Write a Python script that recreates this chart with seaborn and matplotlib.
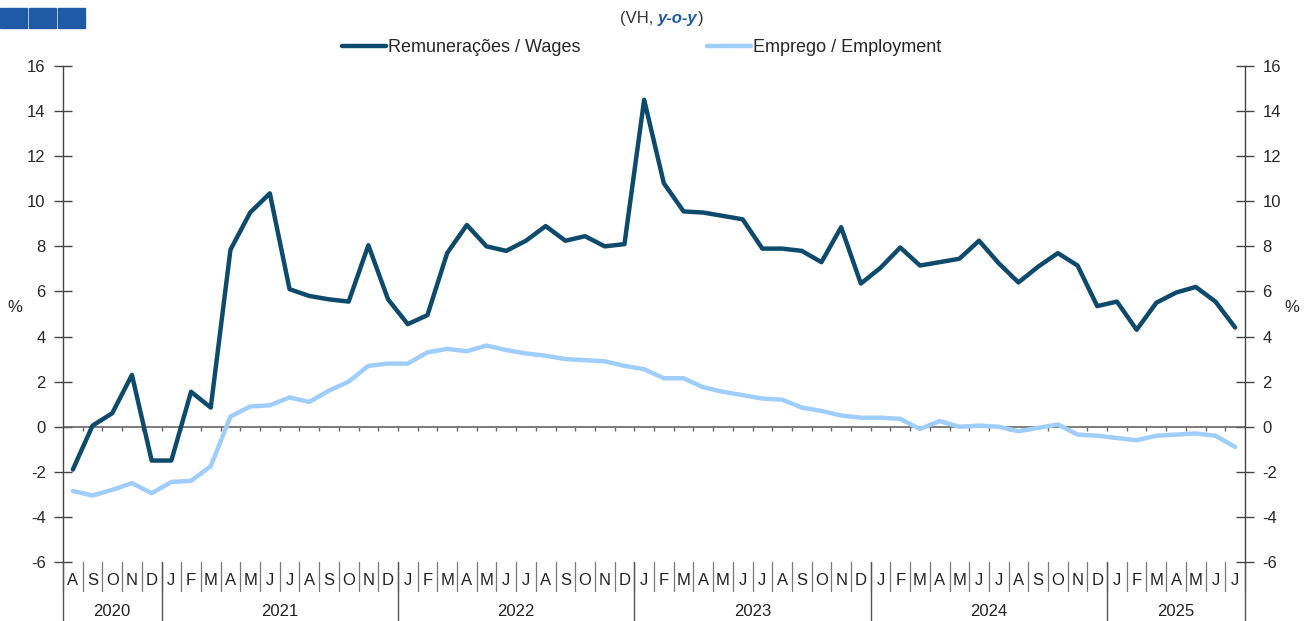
import pandas as pd
import seaborn as sns
import matplotlib.pyplot as plt
import matplotlib.transforms as mtransforms
from matplotlib.patches import Rectangle

# monthly data, Aug 2020 - Jul 2025
months = ["A", "S", "O", "N", "D"] + ["J", "F", "M", "A", "M", "J", "J", "A", "S", "O", "N", "D"] * 4 + ["J", "F", "M", "A", "M", "J", "J"]
years = ["2020", "2021", "2022", "2023", "2024", "2025"]
months_per_year = [5, 12, 12, 12, 12, 7]

wages = [-1.9, 0.05, 0.6, 2.3, -1.5,
         -1.5, 1.55, 0.85, 7.85, 9.5, 10.35, 6.1, 5.8, 5.65, 5.55, 8.05, 5.65,
         4.55, 4.95, 7.7, 8.95, 8.0, 7.8, 8.25, 8.9, 8.25, 8.45, 8.0, 8.1,
         14.5, 10.8, 9.55, 9.5, 9.35, 9.2, 7.9, 7.9, 7.8, 7.3, 8.85, 6.35,
         7.05, 7.95, 7.15, 7.3, 7.45, 8.25, 7.25, 6.4, 7.1, 7.7, 7.15, 5.35,
         5.55, 4.3, 5.5, 5.95, 6.2, 5.55, 4.4]

employment = [-2.85, -3.05, -2.8, -2.5, -2.95,
              -2.45, -2.4, -1.75, 0.45, 0.9, 0.95, 1.3, 1.1, 1.6, 2.0, 2.7, 2.8,
              2.8, 3.3, 3.45, 3.35, 3.6, 3.4, 3.25, 3.15, 3.0, 2.95, 2.9, 2.7,
              2.55, 2.15, 2.15, 1.75, 1.55, 1.4, 1.25, 1.2, 0.85, 0.7, 0.5, 0.4,
              0.4, 0.35, -0.1, 0.25, 0.0, 0.05, 0.0, -0.2, -0.05, 0.1, -0.35, -0.4,
              -0.5, -0.6, -0.4, -0.35, -0.3, -0.4, -0.9]

wages_label = "Remunerações / Wages"
employment_label = "Emprego / Employment"

sns.set_style("white")
plt.rcParams["font.family"] = ["Liberation Sans", "DejaVu Sans"]
plt.rcParams["axes.unicode_minus"] = False

n = len(months)
df = pd.DataFrame({
    "t": list(range(n)) * 2,
    "value": wages + employment,
    "series": [wages_label] * n + [employment_label] * n,
})

W, H = 1311, 621
fig = plt.figure(figsize=(W / 100, H / 100), dpi=100)
ax = fig.add_axes([63 / W, 1 - 562 / H, 1182 / W, 496 / H])

sns.lineplot(data=df, x="t", y="value", hue="series",
             palette={wages_label: "#0d4a6c", employment_label: "#9fcdfc"},
             linewidth=3.2, ax=ax, zorder=3)

ax.set_xlim(-0.5, n - 0.5)
ax.set_ylim(-6, 16)
ax.set_yticks(range(-6, 17, 2))
ax.set_xticks([])
ax.set_xlabel("")
ax.set_ylabel("")
for s in ["top", "bottom"]:
    ax.spines[s].set_visible(False)
for s in ["left", "right"]:
    ax.spines[s].set_color("#444444")
    ax.spines[s].set_linewidth(1)
ax.tick_params(axis="y", direction="inout", length=13, width=1, color="#444444",
               labelsize=12, left=True, right=True, labelleft=True, labelright=True, pad=6)

# zero line with little month ticks
ax.axhline(0, color="#666666", lw=1.2, zorder=2)
bounds = [i - 0.5 for i in range(1, n)]
ax.vlines(bounds, -0.2, 0, color="#666666", lw=1, zorder=2)

# month / year labels under the plot
blend = mtransforms.blended_transform_factory(ax.transData, ax.transAxes)
for i, m in enumerate(months):
    ax.text(i, -0.037, m, transform=blend, ha="center", va="center", fontsize=12, color="#222222")
for b in range(n + 1):
    ax.plot([b - 0.5, b - 0.5], [0, -0.058], transform=blend, color="#777777", lw=0.9, clip_on=False)

start = 0
for y, k in zip(years, months_per_year):
    ax.text(start + k / 2 - 0.5, -0.099, y, transform=blend, ha="center", va="center", fontsize=12, color="#222222")
    ax.plot([start - 0.5, start - 0.5], [0, -0.125], transform=blend, color="#555555", lw=1, clip_on=False)
    start += k
ax.plot([n - 0.5, n - 0.5], [0, -0.125], transform=blend, color="#555555", lw=1, clip_on=False)

fig.text(15 / W, 1 - 308 / H, "%", ha="center", va="center", fontsize=12)
fig.text(1292 / W, 1 - 308 / H, "%", ha="center", va="center", fontsize=12)

# legend on top
handles, labels = ax.get_legend_handles_labels()
ax.legend_.remove()
fig.legend(handles, labels, loc="center", bbox_to_anchor=(642 / W, 1 - 48 / H), ncol=2,
           frameon=False, fontsize=13, handlelength=2.4, handletextpad=0.15, columnspacing=7.0)

# subtitle
t1 = fig.text(620 / W, 1 - 19 / H, "(VH, ", ha="left", va="center", fontsize=12, color="#333333")
ann2 = ax.annotate("y-o-y", xy=(1, 0), xycoords=t1, va="bottom", ha="left",
                   fontsize=12, color="#1f5aa6", style="italic", weight="bold")
ax.annotate(")", xy=(1, 0), xycoords=ann2, va="bottom", ha="left", fontsize=12, color="#333333")

# header squares
for x0 in [0, 29, 58]:
    fig.patches.append(Rectangle((x0 / W, 1 - 28 / H), 27 / W, 20 / H,
                                 transform=fig.transFigure, color="#1f5aa6"))

fig.savefig("out.png", dpi=100)
